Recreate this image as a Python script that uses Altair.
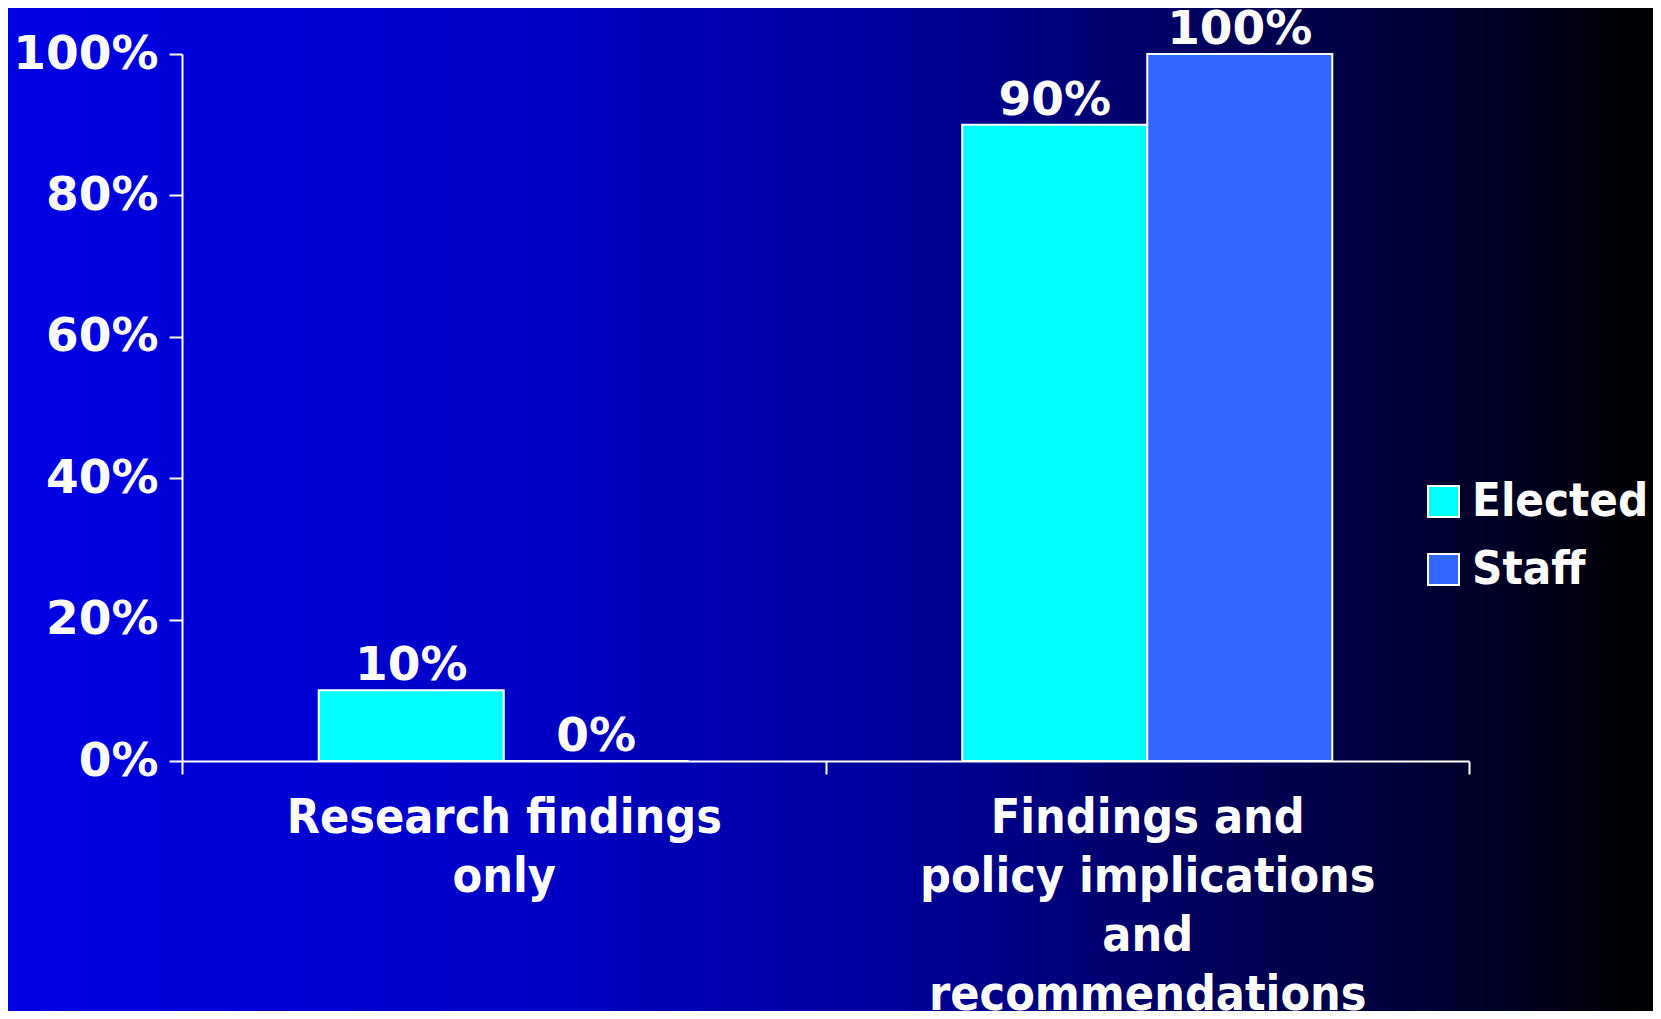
import altair as alt
import pandas as pd

categories = ["Research findings\nonly", "Findings and\npolicy implications\nand\nrecommendations"]
series = ["Elected", "Staff"]
elected = [0.10, 0.90]
staff = [0.00, 1.00]
colors = ["#00FFFF", "#3366FF"]
y_ticks = [0, 0.2, 0.4, 0.6, 0.8, 1.0]

rows = []
for i, c in enumerate(categories):
    rows.append({"category": c, "group": series[0], "value": elected[i]})
    rows.append({"category": c, "group": series[1], "value": staff[i]})
df = pd.DataFrame(rows)

W, H = 1287, 707
PL, PT, PR, PB = 174, 46, 184, 250
FONT_C = "DejaVu Sans Condensed, DejaVu Sans, sans-serif"
FONT = "DejaVu Sans, sans-serif"

grad = alt.LinearGradient(
    gradient="linear", x1=0, y1=0, x2=1, y2=0,
    stops=[
        alt.GradientStop(offset=0.0, color="#0000e4"),
        alt.GradientStop(offset=0.33, color="#0000c4"),
        alt.GradientStop(offset=0.54, color="#00009c"),
        alt.GradientStop(offset=0.72, color="#000060"),
        alt.GradientStop(offset=0.86, color="#000036"),
        alt.GradientStop(offset=1.0, color="#000000"),
    ],
)

bg = alt.Chart(pd.DataFrame({"a": [0]})).mark_rect(fill=grad, strokeWidth=0).encode(
    x=alt.value(-PL), x2=alt.value(W + PR), y=alt.value(-PT), y2=alt.value(H + PB)
)

x_enc = alt.X(
    "category:N", sort=categories,
    scale=alt.Scale(paddingInner=0, paddingOuter=0),
    axis=alt.Axis(
        title=None, labelAngle=0,
        labelExpr="isValid(datum.value) ? split(datum.value, '\\n') : ''",
        tickBand="extent", domainColor="white", tickColor="white", tickSize=13,
        tickWidth=2, domainWidth=2, labelColor="white", labelFont=FONT_C,
        labelFontWeight="bold", labelFontSize=48, labelLineHeight=59,
        labelPadding=20, labelBaseline="top", labelLimit=0, zindex=2,
    ),
)
xo_enc = alt.XOffset("group:N", sort=series, scale=alt.Scale(paddingInner=0, paddingOuter=0.739))
y_enc = alt.Y(
    "value:Q", scale=alt.Scale(domain=[0, 1], nice=False),
    axis=alt.Axis(
        values=y_ticks, format=".0%", title=None, grid=False,
        domainColor="white", tickColor="white", tickSize=13, tickWidth=2,
        domainWidth=2, labelColor="white", labelFont=FONT, labelFontWeight="bold",
        labelFontSize=47, labelPadding=11, zindex=2,
    ),
)

base = alt.Chart(df)
bars = base.mark_bar(stroke="white", strokeWidth=2).encode(
    x=x_enc, xOffset=xo_enc, y=y_enc,
    color=alt.Color(
        "group:N", scale=alt.Scale(domain=series, range=colors),
        legend=alt.Legend(
            title=None, orient="none", legendX=1238, legendY=424, padding=0,
            symbolType="square", symbolSize=961, symbolStrokeColor="white",
            symbolStrokeWidth=2, symbolOpacity=1,
            labelFont=FONT_C, labelFontWeight="bold", labelFontSize=47,
            labelColor="white", rowPadding=20, labelOffset=5, labelLimit=0,
        ),
    ),
)
text = base.mark_text(
    dy=-10, baseline="alphabetic", font=FONT, fontWeight="bold", fontSize=47, color="white"
).encode(x=x_enc, xOffset=xo_enc, y=y_enc, text=alt.Text("value:Q", format=".0%"))

chart = alt.layer(bg, bars, text).properties(
    width=W, height=H,
    autosize=alt.AutoSizeParams(type="none"),
    padding={"left": PL, "top": PT, "right": PR, "bottom": PB},
).configure_view(stroke=None)

chart.save("out.html", embed_options={"renderer": "svg", "actions": False})
